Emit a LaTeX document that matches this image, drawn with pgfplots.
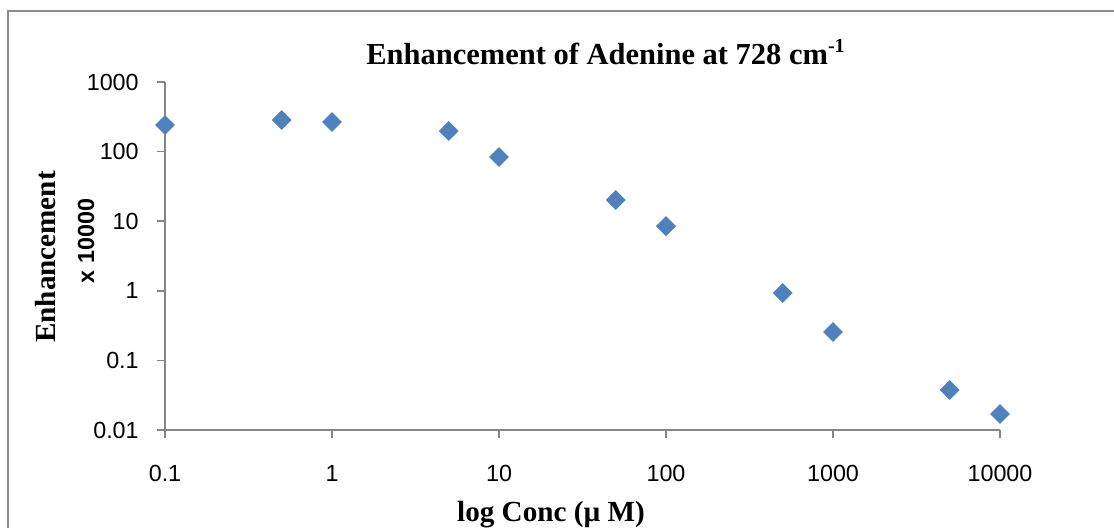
\documentclass[border=0pt]{standalone}
\usepackage{pgfplots}
\pgfplotsset{compat=1.18}
\usepackage{fontspec}
\setmainfont{Liberation Serif}
\newfontfamily\arial{Liberation Sans}
\definecolor{mk}{HTML}{4F81BD}
\definecolor{ax}{HTML}{868686}
\definecolor{frame}{HTML}{8C8C8C}
\begin{document}
\begin{tikzpicture}
\useasboundingbox (0pt,0pt) rectangle (668.4pt,316.2pt);
\draw[frame, line width=1.2pt] (4.8pt,-2pt) -- (4.8pt,309.6pt) -- (672pt,309.6pt);
\begin{axis}[
  at={(99pt,58.2pt)}, anchor=south west,
  scale only axis, width=501pt, height=208.8pt,
  xmode=log, ymode=log,
  xmin=0.1, xmax=10000, ymin=0.01, ymax=1000,
  axis x line*=bottom, axis y line*=left,
  axis line style={ax, line width=0.9pt, -},
  tick style={ax, line width=0.9pt},
  major tick length=4.8pt, tick align=outside,
  xminorticks=false, yminorticks=false,
  xtick={0.1,1,10,100,1000,10000},
  xticklabels={0.1,1,10,100,1000,10000},
  ytick={0.01,0.1,1,10,100,1000},
  yticklabels={0.01,0.1,1,10,100,1000},
  yticklabel style={font=\arial\fontsize{14}{14}\selectfont, inner sep=0pt, anchor=east, xshift=-10.8pt},
  xticklabel style={font=\arial\fontsize{14}{14}\selectfont, inner sep=0pt, anchor=north, yshift=-16pt},
  clip=false,
]
\addplot[only marks, mark=square*, mark size=4pt, mark options={rotate=45, fill=mk, draw=mk}] coordinates {
(0.1,241) (0.5,284) (1,266) (5,198) (10,83.6) (50,20.2) (100,8.5) (500,0.93) (1000,0.256) (5000,0.0376) (10000,0.017)
};
\end{axis}
\node[anchor=base, font=\bfseries\fontsize{18.3}{18.3}\selectfont, inner sep=0pt] at (363.3pt,277.5pt) {Enhancement of Adenine at 728 cm\raisebox{0.38em}{\fontsize{12}{12}\selectfont -1}};
\node[anchor=base, rotate=90, font=\bfseries\fontsize{17.5}{17.5}\selectfont, inner sep=0pt] at (33pt,162pt) {Enhancement};
\node[anchor=base, rotate=90, font=\arial\bfseries\fontsize{14}{14}\selectfont, inner sep=0pt] at (56.4pt,171.6pt) {x 10000};
\node[anchor=base, font=\bfseries\fontsize{17.5}{17.5}\selectfont, inner sep=0pt] at (330.6pt,3.6pt) {log Conc (µ M)};
\end{tikzpicture}
\end{document}
